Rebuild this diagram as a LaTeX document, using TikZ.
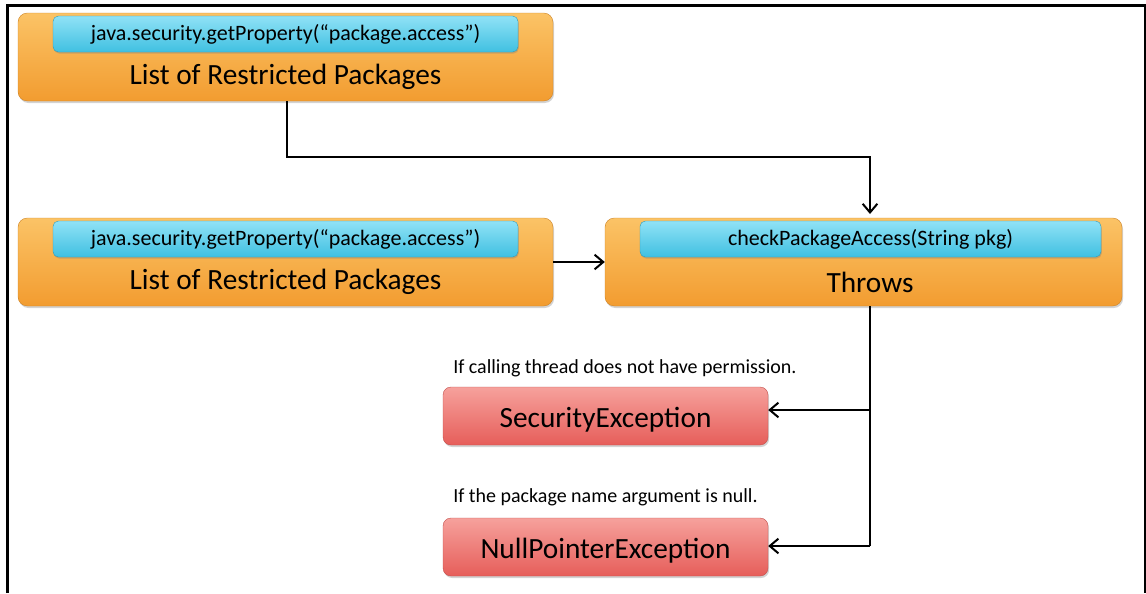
\documentclass[tikz,border=0pt]{standalone}
\usepackage{fontspec}
\setmainfont{Carlito}
\usetikzlibrary{arrows.meta,shadows}
\definecolor{orT}{HTML}{FBC366}
\definecolor{orB}{HTML}{F29C30}
\definecolor{blT}{HTML}{90E2F6}
\definecolor{blB}{HTML}{40C0E1}
\definecolor{rdT}{HTML}{F6A19C}
\definecolor{rdB}{HTML}{E65E5A}
\tikzset{
  px/.style={x=0.75pt,y=-0.75pt},
  obox/.style={draw=orB!85!black,line width=0.3pt,rounded corners=7pt,top color=orT,bottom color=orB,
    drop shadow={opacity=0.35,shadow xshift=0.8pt,shadow yshift=-1.5pt},inner sep=0pt},
  bbox/.style={draw=blB!80!black,line width=0.3pt,rounded corners=4pt,top color=blT,bottom color=blB,
    drop shadow={opacity=0.35,shadow xshift=0.6pt,shadow yshift=-1.2pt},inner sep=0pt,font=\fontsize{16.5}{19}\selectfont},
  rbox/.style={draw=rdB!85!black,line width=0.3pt,rounded corners=6pt,top color=rdT,bottom color=rdB,
    drop shadow={opacity=0.35,shadow xshift=0.8pt,shadow yshift=-1.5pt},inner sep=0pt},
  big/.style={font=\fontsize{22}{25}\selectfont,inner sep=0pt},
  note/.style={font=\fontsize{15}{17}\selectfont,inner sep=0pt,anchor=west},
  conn/.style={line width=1.5pt,black},
  arr/.style={conn,-{Straight Barb[length=6.5pt,width=11pt,line width=1.5pt]}},
}
\begin{document}
\begin{tikzpicture}[px]
\useasboundingbox (0,0) rectangle (1146,593);
\draw[line width=1.6pt] (7.5,593) -- (7.5,5.5) -- (1145,5.5) -- (1145,593);
% box 1
\node[obox,minimum width=535*0.75pt,minimum height=88*0.75pt] (o1) at (285.5,57) {};
\node[bbox,minimum width=465*0.75pt,minimum height=36*0.75pt] (b1) at (285.5,34) {java.security.getProperty(“package.access”)};
\node[big] (t1) at (285.5,77) {List of Restricted Packages};
% box 2
\node[obox,minimum width=535*0.75pt,minimum height=88*0.75pt] (o2) at (285.5,262) {};
\node[bbox,minimum width=465*0.75pt,minimum height=36*0.75pt] (b2) at (285.5,239) {java.security.getProperty(“package.access”)};
\node[big] (t2) at (285.5,282) {List of Restricted Packages};
% box 3
\node[obox,minimum width=517*0.75pt,minimum height=88*0.75pt] (o3) at (863.5,262) {};
\node[bbox,minimum width=461*0.75pt,minimum height=36*0.75pt] (b3) at (870.5,239) {checkPackageAccess(String pkg)};
\node[big] (t3) at (870,282) {Throws};
% exceptions
\node[rbox,minimum width=325*0.75pt,minimum height=58*0.75pt] (se) at (605.5,416) {};
\node[big] (st) at (605.5,420) {SecurityException};
\node[rbox,minimum width=325*0.75pt,minimum height=58*0.75pt] (ne) at (605.5,547) {};
\node[big] (nt) at (605.5,551) {NullPointerException};
\node[note] (l1) at (453,368) {If calling thread does not have permission.};
\node[note] (l2) at (453,497) {If the package name argument is null.};
% connectors
\coordinate (c1) at (287,101);
\coordinate (c2) at (578,157);
\coordinate (c3) at (870,214);
\coordinate (c4) at (870,306);
\coordinate (c5) at (870,410);
\coordinate (c6) at (870,546);
\draw[arr] (c1) |- (c2) -| (c3);
\draw[arr] (o2.east) -- (o3.west);
\draw[conn] (c4) -- (c6);
\draw[arr] (c5) -- (se.east |- c5);
\draw[arr] (c6) -- (ne.east |- c6);
\end{tikzpicture}
\end{document}
